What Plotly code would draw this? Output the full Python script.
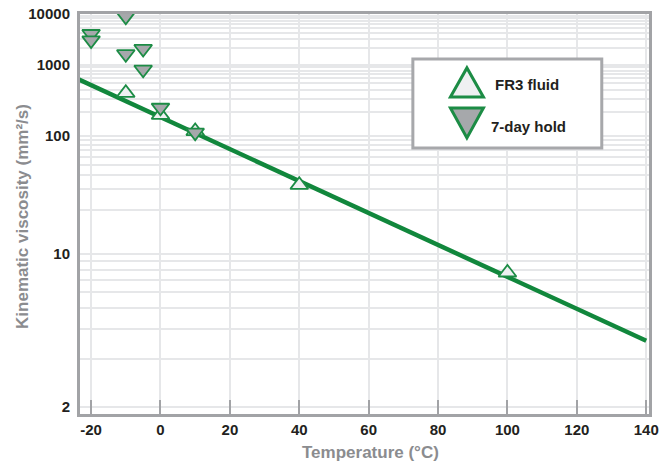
import numpy as np
import plotly.graph_objects as go

# ---------------- data ----------------
fr3_temp = [-10, 0, 10, 40, 100]
fr3_visc = [360, 180, 114, 32.3, 7.7]

hold_temp = [-20, -20, -10, -10, -5, -5, 0, 10]
hold_visc = [3750, 2800, 8800, 1540, 1920, 830, 225, 110]

fit_temp = [-25, 140]
fit_visc = [625, 3.55]

x_ticks = [-20, 0, 20, 40, 60, 80, 100, 120, 140]
y_label_values = [2, 10, 100, 1000, 10000]
y_label_text = ["2", "10", "100", "1000", "10000"]


def walther(v):
    """ASTM D341 style viscosity scale: log10(log10(v + 0.7))."""
    return np.log10(np.log10(np.asarray(v, dtype=float) + 0.7))


# grid values: 2..9, 10..90, 100..900, 1000..10000
grid_values = [m * d for d in (1, 10, 100, 1000) for m in range(1, 10)] + [10000]
grid_values = [g for g in grid_values if g >= 2]
grid_text = [y_label_text[y_label_values.index(g)] if g in y_label_values else ""
             for g in grid_values]

GREEN_LINE = "#11873c"
GREEN_EDGE = "#1c8c45"
AXIS_GRAY = "#a2a3a6"
GRID_GRAY = "#e6e7e9"
TEXT_DARK = "#231f20"
TITLE_GRAY = "#8b8c8f"
FONT = "Liberation Sans, Arial, sans-serif"

fig = go.Figure()

fig.add_trace(go.Scatter(
    x=fit_temp, y=walther(fit_visc), mode="lines",
    line=dict(color=GREEN_LINE, width=4.5), showlegend=False, hoverinfo="skip"))

fig.add_trace(go.Scatter(
    x=fr3_temp, y=walther(fr3_visc), mode="markers", name="FR3 fluid",
    marker=dict(symbol="triangle-up", size=15.5, color="#eff0f2",
                line=dict(color=GREEN_EDGE, width=1.8)),
    cliponaxis=False, showlegend=False))

fig.add_trace(go.Scatter(
    x=hold_temp, y=walther(hold_visc), mode="markers", name="7-day hold",
    marker=dict(symbol="triangle-down", size=15.5, color="#a6a8ab",
                line=dict(color=GREEN_EDGE, width=1.8)),
    cliponaxis=False, showlegend=False))

fig.update_layout(
    width=669, height=464,
    margin=dict(l=80, r=20, t=14, b=50),
    paper_bgcolor="white", plot_bgcolor="white",
    font=dict(family=FONT, color=TEXT_DARK),
)

fig.update_xaxes(
    range=[-23.2, 140.8], automargin=False,
    tickmode="array", tickvals=x_ticks, ticktext=[str(t) for t in x_ticks],
    showgrid=True, gridcolor=GRID_GRAY, gridwidth=2,
    showline=True, linecolor=AXIS_GRAY, linewidth=3, mirror=True,
    ticks="inside", ticklen=14, tickwidth=2, tickcolor=AXIS_GRAY,
    tickfont=dict(family=FONT, size=15, color=TEXT_DARK, weight="bold"),
    zeroline=False,
)

fig.update_yaxes(
    range=[float(walther(1.9)), float(walther(10000))], automargin=False,
    tickmode="array", tickvals=walther(grid_values).tolist(), ticktext=grid_text,
    showgrid=True, gridcolor=GRID_GRAY, gridwidth=2,
    showline=True, linecolor=AXIS_GRAY, linewidth=3, mirror=True,
    ticks="", ticklabelstandoff=4,
    tickfont=dict(family=FONT, size=15, color=TEXT_DARK, weight="bold"),
    zeroline=False,
)

# axis titles
fig.add_annotation(text="Temperature (°C)", xref="paper", yref="paper",
                   x=0.51, y=-0.095, xanchor="center", yanchor="middle",
                   showarrow=False,
                   font=dict(family=FONT, size=17, color=TITLE_GRAY, weight="bold"))
fig.add_annotation(text="Kinematic viscosity (mm²/s)", xref="paper", yref="paper",
                   x=-0.102, y=0.495, xanchor="center", yanchor="middle",
                   textangle=-90, showarrow=False,
                   font=dict(family=FONT, size=17, color=TITLE_GRAY, weight="bold"))

# legend box
fig.add_shape(type="rect", xref="paper", yref="paper",
              x0=0.585, x1=0.917, y0=0.665, y1=0.8875,
              line=dict(color="#a7a8ab", width=3), fillcolor="white", layer="above")
fig.add_shape(type="path", xref="paper", yref="paper",
              xsizemode="pixel", ysizemode="pixel", xanchor=0.680, yanchor=0.829,
              path="M -16.5,-14.5 L 16.5,-14.5 L 0,14.5 Z",
              line=dict(color=GREEN_EDGE, width=3), fillcolor="#eff0f2", layer="above")
fig.add_shape(type="path", xref="paper", yref="paper",
              xsizemode="pixel", ysizemode="pixel", xanchor=0.680, yanchor=0.7275,
              path="M -16.5,15 L 16.5,15 L 0,-15 Z",
              line=dict(color=GREEN_EDGE, width=3), fillcolor="#a6a8ab", layer="above")
fig.add_annotation(text="FR3 fluid", xref="paper", yref="paper",
                   x=0.7258, y=0.825, xanchor="left", yanchor="middle", showarrow=False,
                   font=dict(family=FONT, size=15, color=TEXT_DARK, weight="bold"))
fig.add_annotation(text="7-day hold", xref="paper", yref="paper",
                   x=0.7188, y=0.7175, xanchor="left", yanchor="middle", showarrow=False,
                   font=dict(family=FONT, size=15, color=TEXT_DARK, weight="bold"))

fig.write_html("out.html", config={"displayModeBar": False},
               post_script="document.body.style.margin='0';document.body.style.overflow='hidden';")
